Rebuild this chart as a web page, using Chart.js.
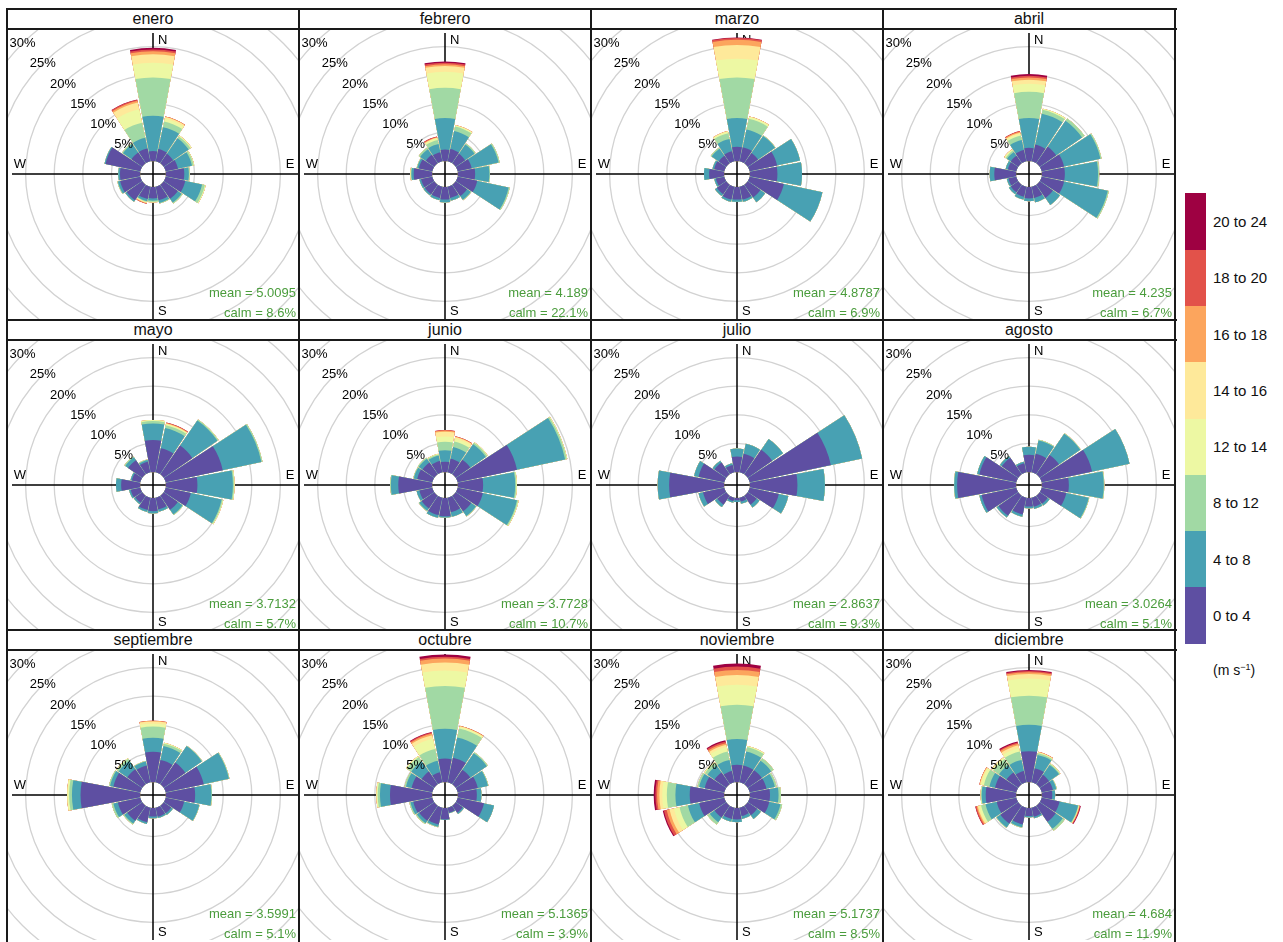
<!DOCTYPE html>
<html>
<head>
<meta charset="utf-8">
<script src="https://cdn.jsdelivr.net/npm/chart.js@4.4.1/dist/chart.umd.min.js"></script>
<style>
  body { margin: 0; background: #fff; font-family: "Liberation Sans", Arial, sans-serif; }
  #page { position: relative; width: 1283px; height: 942px; overflow: hidden; }
  .vline, .hline { position: absolute; background: #1a1a1a; z-index: 3; }
  .strip { position: absolute; height: 20px; line-height: 20px; text-align: center; font-size: 16px; color: #111; z-index: 2; }
  canvas.rose { position: absolute; z-index: 1; }
  .key { position: absolute; left: 1185px; width: 21px; }
  .keylab { position: absolute; left: 1213px; font-size: 15px; color: #111; transform: translateY(-50%); white-space: nowrap; }
</style>
</head>
<body>
<div id="page"></div>
<script>
const months = ['enero', 'febrero', 'marzo', 'abril', 'mayo', 'junio',
  'julio', 'agosto', 'septiembre', 'octubre', 'noviembre', 'diciembre'];
const meanSpeed = ['5.0095', '4.189', '4.8787', '4.235', '3.7132', '3.7728',
  '2.8637', '3.0264', '3.5991', '5.1365', '5.1737', '4.684'];
const calmPct = ['8.6', '22.1', '6.9', '6.7', '5.7', '10.7', '9.3', '5.1', '5.1', '3.9', '8.5', '11.9'];
const speedBins = ['0 to 4', '4 to 8', '8 to 12', '12 to 14', '14 to 16', '16 to 18', '18 to 20', '20 to 24'];
const binColors = ['#5E4FA2', '#48A1B3', '#A1D9A4', '#EDF8A3', '#FEE99A', '#FCA55D', '#E2524A', '#9E0142'];
const directions = ['N', 'NNE', 'NE', 'ENE', 'E', 'ESE', 'SE', 'SSE', 'S', 'SSW', 'SW', 'WSW', 'W', 'WNW', 'NW', 'NNW'];
const ringTicks = [0, 5, 10, 15, 20, 25, 30, 35];
const ringLabels = [5, 10, 15, 20, 25, 30];

// frequency (%) per direction, one column per speed bin (missing = 0)
const enero = [
  [1.75, 6.15, 6.7, 2.6, 1.45, 0.55, 0.3, 0.3], [2.2, 3.9, 1.0, 0.5, 0.3, 0.1], [2.0, 3.3, 0.4, 0.2],
  [2.2, 2.5, 0.3, 0.1], [3.2, 0.8, 0.15], [3.5, 3.0, 0.5, 0.15], [3.0, 0.8, 0.2], [2.4, 0.5, 0.1],
  [2.0, 0.4, 0.2, 0.1], [2.2, 0.4, 0.1, 0.1, 0.1, 0.1, 0.05], [3.3, 0.3], [3.6, 0.4, 0.1],
  [3.5, 0.3], [6.2, 0.2], [2.3, 1.8, 0.2], [2.3, 1.9, 2.7, 2.4, 1.2, 0.3, 0.2, 0.05]
];
const febrero = [
  [2.0, 5.5, 5.3, 2.8, 1.0, 0.3, 0.3, 0.2], [2.2, 3.2, 0.8, 0.2, 0.1], [2.0, 2.0, 0.2],
  [2.5, 4.8, 0.2], [3.0, 2.5, 0.1], [3.5, 5.6, 0.2], [2.4, 0.8, 0.1], [2.0, 0.5],
  [2.2, 0.5], [2.0, 0.4], [2.0, 0.3], [2.0, 0.3],
  [3.2, 0.4, 0.1, 0.1], [2.4, 0.3, 0.1], [1.8, 1.2, 0.3], [1.6, 1.5, 0.7, 0.3, 0.1, 0.1, 0.15]
];
const marzo = [
  [2.5, 5.0, 7.1, 3.3, 2.4, 0.9, 0.3, 0.1], [2.5, 3.2, 1.9, 0.3, 0.1], [2.2, 3.6, 0.1],
  [4.9, 4.1], [4.8, 4.3], [6.1, 6.9], [2.7, 1.0], [2.3, 0.4],
  [2.2, 0.4], [2.3, 0.4], [2.0, 0.4], [1.5, 0.3],
  [2.6, 0.9], [1.8, 0.3], [1.6, 1.5, 0.2], [1.8, 2.2, 1.0, 0.3, 0.1]
];
const abril = [
  [2.3, 5.2, 4.6, 1.4, 0.7, 0.4, 0.3, 0.3], [3.0, 5.5, 0.7, 0.2], [3.5, 5.5, 0.5],
  [4.0, 6.5, 0.2], [4.0, 5.8, 0.2], [4.0, 7.8, 0.2], [2.8, 1.5], [2.0, 0.8],
  [2.0, 0.5], [1.8, 0.5], [1.6, 0.4], [1.4, 0.3],
  [3.8, 0.8], [1.5, 0.4], [1.6, 0.8, 0.3, 0.2, 0.1], [2.0, 1.8, 0.8, 0.3, 0.2, 0.2, 0.1]
];
const mayo = [
  [5.6, 2.9, 0.4, 0.2], [4.3, 3.6, 0.5, 0.2, 0.1, 0.1, 0.1], [6.1, 5.3, 0.2, 0.05],
  [10.2, 6.9, 0.2], [5.5, 6.2, 0.2, 0.1], [4.5, 5.5, 0.2, 0.1], [3.0, 1.0, 0.1], [2.1, 0.4],
  [2.3, 0.4], [2.2, 0.35], [1.5, 0.3], [1.7, 0.3],
  [3.3, 0.9], [1.5, 0.25], [3.0, 0.6, 0.2], [1.9, 0.3, 0.1]
];
const junio = [
  [1.8, 2.0, 1.5, 0.9, 0.85, 0.2, 0.1], [2.4, 2.1, 1.0, 0.5, 0.3, 0.1, 0.05], [3.1, 3.3, 0.3, 0.1],
  [10.6, 8.6, 0.3, 0.1], [4.4, 5.6, 0.2, 0.1], [4.5, 6.1, 0.2, 0.1], [3.3, 1.0, 0.1], [2.6, 0.8],
  [3.2, 0.2], [3.1, 0.5], [2.7, 0.5, 0.1], [2.3, 0.5],
  [5.9, 1.3, 0.1], [2.7, 0.6, 0.1], [2.5, 0.8, 0.2], [2.0, 1.0, 0.2, 0.1]
];
const julio = [
  [2.7, 1.4], [3.3, 1.8], [5.2, 2.3],
  [14.5, 5.6], [8.3, 4.8], [5.2, 1.7], [1.9, 0.6], [0.7, 0.4],
  [0.4, 0.3], [0.6, 0.3], [1.9, 0.5], [3.8, 0.8],
  [9.6, 2.0], [4.6, 0.8], [2.5, 0.4], [1.3, 0.3]
];
const agosto = [
  [3.0, 1.4], [3.3, 2.4, 0.1], [4.1, 4.5, 0.1],
  [9.0, 6.7], [4.7, 6.1, 0.1], [4.4, 4.0, 0.1], [1.7, 0.4], [1.6, 0.4],
  [1.5, 0.3], [3.0, 0.4], [4.2, 0.4], [6.2, 0.4],
  [10.3, 0.5, 0.05], [6.6, 0.4], [3.5, 0.4], [1.6, 0.3]
];
const septiembre = [
  [5.3, 2.45, 1.95, 0.5, 0.4, 0.1], [4.0, 2.5, 0.4, 0.15], [4.6, 3.5, 0.1],
  [6.8, 4.5, 0.1], [5.1, 2.85, 0.1], [3.3, 2.7, 0.05], [1.6, 0.35], [1.6, 0.25],
  [1.5, 0.3], [2.6, 0.3], [3.2, 0.6, 0.2], [4.0, 0.8, 0.3],
  [10.4, 1.5, 0.5, 0.3, 0.05], [4.8, 0.6, 0.2], [3.2, 1.8, 0.4, 0.1], [3.0, 0.7, 0.1]
];
const octubre = [
  [4.1, 5.2, 7.5, 2.7, 1.4, 0.7, 0.3, 0.4], [4.4, 3.6, 1.6, 0.3, 0.1, 0.1], [3.1, 3.5, 0.2],
  [3.6, 1.8, 0.1], [3.3, 0.8], [4.7, 1.8], [1.5, 0.25], [0.9, 0.1],
  [2.0, 0.1], [3.0, 0.4, 0.1], [3.2, 0.5, 0.2], [3.4, 0.5, 0.2],
  [7.35, 1.75, 0.4, 0.2, 0.05], [3.7, 1.0, 0.25], [2.7, 2.2, 0.9, 0.2], [1.8, 2.05, 2.1, 1.85, 0.6, 0.3, 0.2, 0.1]
];
const noviembre = [
  [3.0, 4.5, 6.0, 3.5, 1.7, 0.9, 0.6, 0.5], [3.0, 2.5, 0.8, 0.2], [3.0, 2.0, 0.5],
  [3.0, 1.5, 0.3], [3.5, 1.5, 0.4], [3.5, 2.0, 0.3], [2.0, 0.8], [1.5, 0.5],
  [2.0, 0.5], [2.0, 0.5], [2.5, 1.0, 0.5], [4.5, 2.0, 1.5, 1.0, 0.8, 0.5, 0.5, 0.2],
  [6.0, 2.5, 1.5, 0.8, 0.5, 0.4, 0.3, 0.3], [3.5, 1.0, 0.3], [2.5, 1.5, 0.5, 0.2], [2.0, 2.0, 1.5, 0.8, 0.4, 0.3, 0.3, 0.2]
];
const diciembre = [
  [5.4, 4.6, 5.1, 3.0, 0.8, 0.3, 0.2, 0.2], [2.5, 2.4, 0.3, 0.1, 0.1, 0.05], [2.0, 2.1, 0.2, 0.1],
  [2.0, 0.6, 0.1], [1.8, 0.5], [3.2, 3.3, 0.1, 0.05, 0.05, 0.1, 0.1, 0.1], [3.4, 1.5, 0.4], [1.6, 0.3],
  [1.4, 0.25], [3.0, 0.5, 0.1], [3.8, 0.8, 0.1], [3.5, 2.0, 0.8, 0.4, 0.2, 0.2, 0.2, 0.05],
  [5.3, 0.7, 0.1, 0.1], [3.8, 1.0, 1.0, 0.5, 0.2, 0.1], [2.5, 1.6, 1.2, 0.3, 0.1], [2.0, 2.0, 1.5, 0.6, 0.5, 0.3, 0.2, 0.2]
];
const monthFreq = [enero, febrero, marzo, abril, mayo, junio, julio, agosto, septiembre, octubre, noviembre, diciembre];

// layout
const LEFT = 7, TOP = 9, PANEL_W = 292, ROW_H = 310.5, STRIP_H = 20, PLOT_H = 290;
const R_MIN = -2.27, R_MAX = 23.08;      // radial range, negative part is the calm hole
const WEDGE = 21.0, GAP = 1.5;           // degrees per wedge / white gap
const TEXT_GREEN = '#4a9c3c';

const page = document.getElementById('page');

function cumulate(rows) {
  return speedBins.map((_, k) => rows.map(r => {
    let s = 0;
    for (let j = 0; j <= k; j++) s += r[j] || 0;
    return +s.toFixed(3);
  }));
}

function withGaps(vals) {
  const out = [];
  vals.forEach(v => out.push(v, 0));
  return out;
}

const roseLabels = withGaps(directions).map(d => d === 0 ? '' : d);

const rosePlugin = {
  id: 'rose',
  beforeDatasetsDraw(chart) {
    const s = chart.scales.r, ctx = chart.ctx;
    const r0 = s.getDistanceFromCenterForValue(0);
    chart.getSortedVisibleDatasetMetas().forEach(m => m.data.forEach(a => { a.innerRadius = r0; }));
    const cx = s.xCenter, cy = s.yCenter, L = s.drawingArea - 4;
    ctx.save();
    ctx.strokeStyle = '#000';
    ctx.lineWidth = 1.5;
    ctx.beginPath();
    ctx.moveTo(cx - L, cy); ctx.lineTo(cx + L + 6, cy);
    ctx.moveTo(cx, cy - L); ctx.lineTo(cx, cy + L + 6);
    ctx.stroke();
    ctx.fillStyle = '#000';
    ctx.font = '13px "Liberation Sans", Arial, sans-serif';
    ctx.textBaseline = 'middle';
    ctx.textAlign = 'left';
    ctx.fillText('N', cx + 5, cy - 134);
    ctx.fillText('S', cx + 5, cy + 137);
    ctx.textAlign = 'center';
    ctx.fillText('W', cx - 133, cy - 10);
    ctx.fillText('E', cx + 137, cy - 10);
    ctx.restore();
  },
  afterDatasetsDraw(chart) {
    const s = chart.scales.r, ctx = chart.ctx;
    const cx = s.xCenter, cy = s.yCenter;
    ctx.save();
    ctx.fillStyle = '#000';
    ctx.font = '13px "Liberation Sans", Arial, sans-serif';
    ctx.textAlign = 'center';
    ctx.textBaseline = 'middle';
    ringLabels.forEach(v => {
      const r = s.getDistanceFromCenterForValue(v) * Math.SQRT1_2;
      ctx.fillText(v + '%', cx - r, cy - r);
    });
    const i = chart.options.plugins.rose.index;
    ctx.fillStyle = TEXT_GREEN;
    ctx.textAlign = 'right';
    ctx.fillText('mean = ' + meanSpeed[i], chart.width - 3, chart.height - 26);
    ctx.fillText('calm = ' + calmPct[i] + '%', chart.width - 3, chart.height - 6);
    ctx.restore();
  }
};

months.forEach((name, i) => {
  const col = i % 4, row = Math.floor(i / 4);
  const x = LEFT + col * PANEL_W;
  const y = Math.round(TOP + row * ROW_H);

  const strip = document.createElement('div');
  strip.className = 'strip';
  strip.style.left = x + 'px';
  strip.style.top = y + 'px';
  strip.style.width = PANEL_W + 'px';
  strip.textContent = name;
  page.appendChild(strip);

  const canvas = document.createElement('canvas');
  canvas.className = 'rose';
  canvas.width = PANEL_W;
  canvas.height = PLOT_H;
  canvas.style.left = x + 'px';
  canvas.style.top = (y + STRIP_H) + 'px';
  canvas.style.width = PANEL_W + 'px';
  canvas.style.height = PLOT_H + 'px';
  page.appendChild(canvas);

  const cum = cumulate(monthFreq[i]);
  new Chart(canvas, {
    type: 'polarArea',
    data: {
      labels: roseLabels,
      datasets: speedBins.map((bin, k) => ({
        label: bin,
        data: withGaps(cum[k]),
        backgroundColor: binColors[k],
        borderWidth: 0,
        angle: c => (c.dataIndex % 2 ? GAP : WEDGE)
      }))
    },
    options: {
      responsive: false,
      animation: false,
      layout: { padding: 0 },
      plugins: { legend: { display: false }, tooltip: { enabled: false }, rose: { index: i } },
      scales: {
        r: {
          min: R_MIN,
          max: R_MAX,
          startAngle: -WEDGE / 2,
          ticks: { display: false },
          angleLines: { display: false },
          pointLabels: { display: false },
          grid: {
            circular: true,
            lineWidth: 1.3,
            color: c => (c.tick && c.tick.value > 0 ? '#d2d2d2' : 'rgba(0,0,0,0)')
          },
          afterBuildTicks: sc => { sc.ticks = ringTicks.map(v => ({ value: v })); }
        }
      }
    },
    plugins: [rosePlugin]
  });

  // strip borders
  if (col === 0) {
    [y, y + STRIP_H].forEach(yy => {
      const h = document.createElement('div');
      h.className = 'hline';
      h.style.left = LEFT + 'px';
      h.style.top = (yy - 1) + 'px';
      h.style.width = (4 * PANEL_W + 1.5) + 'px';
      h.style.height = '1.5px';
      page.appendChild(h);
    });
  }
});

for (let c = 0; c <= 4; c++) {
  const v = document.createElement('div');
  v.className = 'vline';
  v.style.left = (LEFT + c * PANEL_W - 1) + 'px';
  v.style.top = (TOP - 1) + 'px';
  v.style.width = '1.5px';
  v.style.height = '934px';
  page.appendChild(v);
}

// colour key
const KEY_TOP = 193, KEY_H = 56.25;
speedBins.forEach((bin, k) => {
  const pos = speedBins.length - 1 - k;
  const sw = document.createElement('div');
  sw.className = 'key';
  sw.style.top = (KEY_TOP + pos * KEY_H) + 'px';
  sw.style.height = (KEY_H + 0.5) + 'px';
  sw.style.background = binColors[k];
  page.appendChild(sw);
  const lab = document.createElement('div');
  lab.className = 'keylab';
  lab.style.top = (KEY_TOP + pos * KEY_H + KEY_H / 2) + 'px';
  lab.textContent = bin;
  page.appendChild(lab);
});
const unit = document.createElement('div');
unit.className = 'keylab';
unit.style.top = '670px';
unit.style.fontSize = '14px';
unit.innerHTML = '(m s<sup style="font-size:9px">&minus;1</sup>)';
page.appendChild(unit);
</script>
</body>
</html>
